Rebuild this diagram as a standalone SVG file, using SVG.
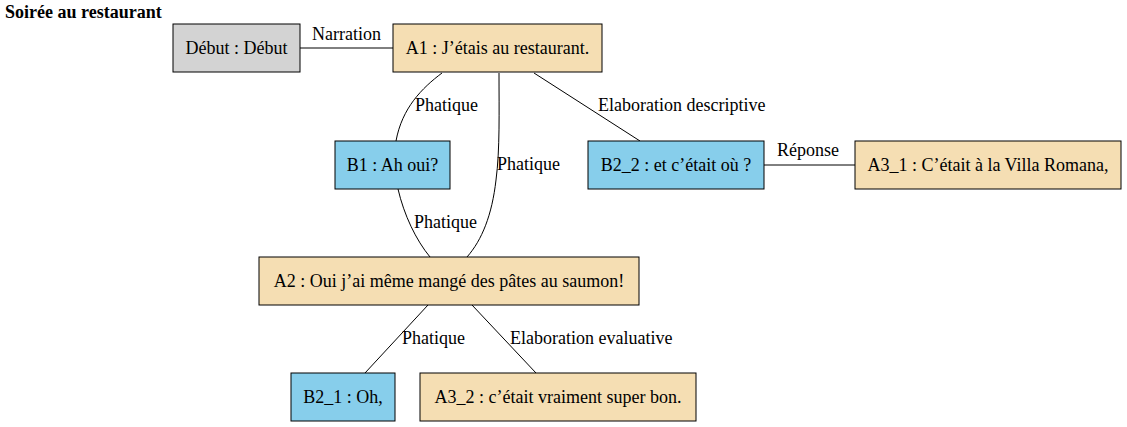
<svg xmlns="http://www.w3.org/2000/svg" width="1127" height="427" viewBox="0 0 1127 427">
<style>
text{font-family:"Liberation Serif","Times New Roman",serif;font-size:18px;fill:#000}
.n rect{stroke:#000;stroke-width:1}
.n text{text-anchor:middle}
.gray{fill:#d3d3d3}
.wheat{fill:#f5deb3}
.sky{fill:#87ceeb}
#edges path{fill:none;stroke:#000;stroke-width:1}
.title{font-weight:bold}
</style>
<rect width="1127" height="427" fill="#fff"/>
<text class="title" x="5" y="18">Soirée au restaurant</text>
<g id="edges">
<path d="M300,48 L393,48"/>
<text x="312" y="40">Narration</text>
<path d="M442,73 C422,88 402,108 396,141"/>
<text x="415" y="111">Phatique</text>
<path d="M499,73 C499,110 500,150 496,180 C492,215 482,240 467,257"/>
<text x="497" y="170">Phatique</text>
<path d="M398,189 C404,215 416,240 430,257"/>
<text x="414" y="228">Phatique</text>
<path d="M534,73 L640,141"/>
<text x="598" y="111">Elaboration descriptive</text>
<path d="M764,165 L855,165"/>
<text x="777" y="156">Réponse</text>
<path d="M428,305 L365,373"/>
<text x="402" y="344">Phatique</text>
<path d="M472,305 L536,373"/>
<text x="510" y="344">Elaboration evaluative</text>
</g>
<g id="debut" class="n"><rect class="gray" x="173" y="24" width="127" height="48"/><text x="236.5" y="54">Début : Début</text></g>
<g id="A1" class="n"><rect class="wheat" x="393" y="24" width="209" height="48"/><text x="497.5" y="54">A1 : J’étais au restaurant.</text></g>
<g id="B1" class="n"><rect class="sky" x="335" y="141" width="115" height="48"/><text x="392.5" y="171">B1 : Ah oui?</text></g>
<g id="B2_2" class="n"><rect class="sky" x="588" y="141" width="176" height="48"/><text x="676" y="171">B2_2 : et c’était où ?</text></g>
<g id="A3_1" class="n"><rect class="wheat" x="855" y="141" width="266" height="48"/><text x="988" y="171">A3_1 : C’était à la Villa Romana,</text></g>
<g id="A2" class="n"><rect class="wheat" x="259" y="257" width="380" height="48"/><text x="449" y="287">A2 : Oui j’ai même mangé des pâtes au saumon!</text></g>
<g id="B2_1" class="n"><rect class="sky" x="291" y="373" width="104" height="48"/><text x="343" y="403">B2_1 : Oh,</text></g>
<g id="A3_2" class="n"><rect class="wheat" x="420" y="373" width="276" height="48"/><text x="558" y="403">A3_2 : c’était vraiment super bon.</text></g>
</svg>
